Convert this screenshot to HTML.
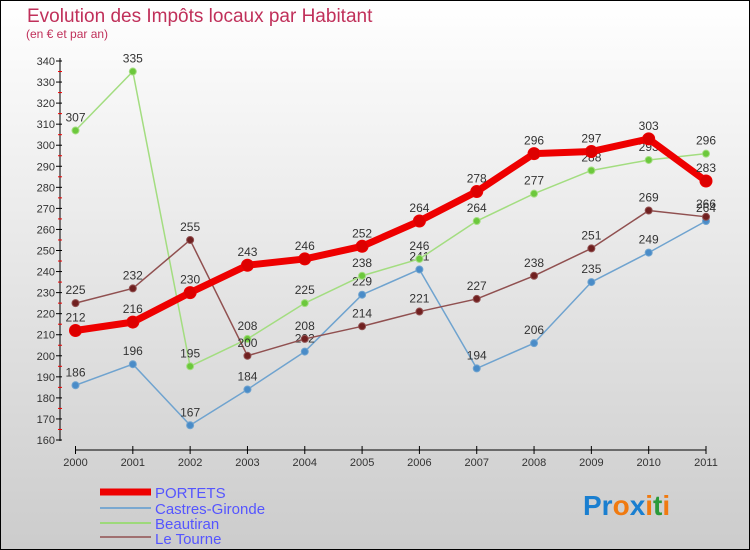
<!DOCTYPE html>
<html><head><meta charset="utf-8"><style>
body{margin:0;width:750px;height:550px;overflow:hidden}
svg{display:block;font-family:"Liberation Sans",sans-serif}
</style></head><body>
<svg width="750" height="550">
<defs><linearGradient id="bg" x1="0" y1="0" x2="0" y2="1"><stop offset="0" stop-color="#ffffff"/><stop offset="1" stop-color="#cccccc"/></linearGradient></defs>
<rect x="0.5" y="0.5" width="749" height="549" fill="url(#bg)" stroke="#000"/>
<text x="27" y="22" font-size="19" fill="#c0305a">Evolution des Impôts locaux par Habitant</text>
<text x="26" y="38" font-size="12" fill="#c0305a">(en € et par an)</text>
<g id="axes"></g>
<g id="series"></g>
<g>
<line x1="100" y1="492" x2="151" y2="492" stroke="#e00" stroke-width="7"/>
<text x="155" y="498" font-size="15" fill="#5555ff">PORTETS</text>
<line x1="100" y1="508" x2="151" y2="508" stroke="#7aa8d0" stroke-width="2"/>
<text x="155" y="514" font-size="15" fill="#5555ff">Castres-Gironde</text>
<line x1="100" y1="523" x2="151" y2="523" stroke="#9dd97a" stroke-width="2"/>
<text x="155" y="529" font-size="15" fill="#5555ff">Beautiran</text>
<line x1="100" y1="537" x2="151" y2="537" stroke="#a07070" stroke-width="2"/>
<text x="155" y="544" font-size="15" fill="#5555ff">Le Tourne</text>
</g>
<text x="583" y="515" font-size="28" font-weight="bold"><tspan fill="#1a7fd0">Pr</tspan><tspan fill="#f07a10">o</tspan><tspan fill="#1a7fd0">x</tspan><tspan fill="#f07a10">i</tspan><tspan fill="#2a9a3a">t</tspan><tspan fill="#f07a10">i</tspan></text>
</svg>
<script>
const years=[2000,2001,2002,2003,2004,2005,2006,2007,2008,2009,2010,2011];
const portets=[212,216,230,243,246,252,264,278,296,297,303,283];
const castres=[186,196,167,184,202,229,241,194,206,235,249,264];
const beautiran=[307,335,195,208,225,238,246,264,277,288,293,296];
const leTourne=[225,232,255,200,208,214,221,227,238,251,269,266];
const yTicks=[160,170,180,190,200,210,220,230,240,250,260,270,280,290,300,310,320,330,340];
const NS="http://www.w3.org/2000/svg";
const X=i=>75.5+i*(706-75.5)/11;
const Y=v=>440-(v-160)*(440-61)/180;
function mk(t,a,p){const e=document.createElementNS(NS,t);for(const k in a)e.setAttribute(k,a[k]);p.appendChild(e);return e;}
const ax=document.getElementById('axes');
const ya=mk('line',{x1:60,y1:58,x2:60,y2:441,stroke:'#000'},ax);


yTicks.forEach(v=>{
 mk('line',{x1:56,x2:62,y1:Y(v),y2:Y(v),stroke:'#000'},ax);
 mk('line',{x1:58,x2:62,y1:Y(v+5),y2:Y(v+5),stroke:v<340?'#e00':'none'},ax);
 const t=mk('text',{x:55,y:Y(v)+4,'font-size':11,fill:'#333','text-anchor':'end'},ax);t.textContent=v;
 
 
});
const xa=mk('line',{x1:75,y1:450,x2:706,y2:450,stroke:'#000'},ax);


years.forEach((y,i)=>{
 mk('line',{x1:X(i),x2:X(i),y1:446,y2:454,stroke:'#000'},ax);
 const t=mk('text',{x:X(i),y:466,'font-size':11,fill:'#333','text-anchor':'middle'},ax);t.textContent=y;
 
 
});
const sg=document.getElementById('series');
function draw(data,name,color,w,r,dot){
 const g=mk('g',{},sg);
 
 
 const l=mk('polyline',{points:data.map((v,i)=>X(i)+','+Y(v)).join(' '),fill:'none',stroke:color,'stroke-width':w,'stroke-linejoin':'round'},g);
 
 
 data.forEach((v,i)=>{
  const c=mk('circle',{cx:X(i),cy:Y(v),r:r,fill:dot,stroke:color,'stroke-width':1},g);
  
  
  const t=mk('text',{x:X(i),y:Y(v)-9,'font-size':12,fill:'#333','text-anchor':'middle'},g);t.textContent=v;
  
  
 });
}
draw(castres,'castres','#6fa3cf',1.5,3.5,'#4a8cc8');
draw(beautiran,'beautiran','#a3dd80',1.5,3.5,'#6cc83c');
draw(leTourne,'le-tourne','#905050',1.5,3.5,'#702020');
draw(portets,'portets','#ee0000',7,6,'#dd0000');
</script>
</body></html>
